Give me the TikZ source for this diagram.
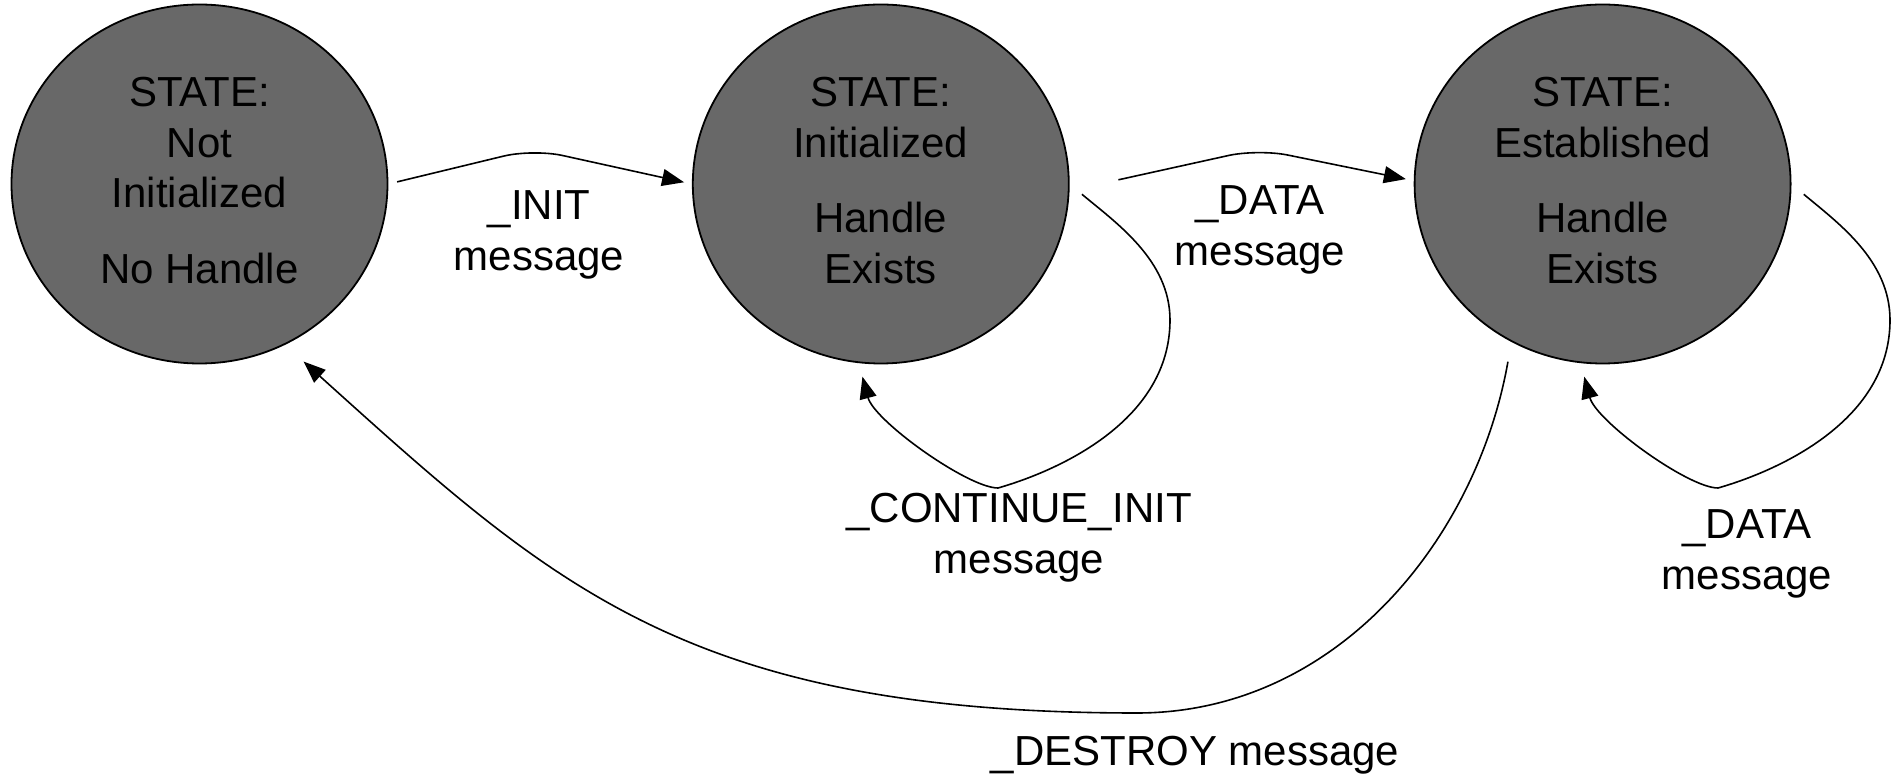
\documentclass[tikz,border=0pt]{standalone}
\usepackage{fontspec}
\setmainfont{Liberation Sans}
\usetikzlibrary{arrows.meta,positioning,shapes.geometric}
\definecolor{stategray}{RGB}{104,104,104}

\begin{document}
\begin{tikzpicture}[x=0.5pt,y=0.5pt,>={Triangle[length=11pt,width=8.5pt]},line width=0.8pt,
    font=\fontsize{21}{25.4}\selectfont]
  \tikzstyle{state}=[ellipse,draw=black,fill=stategray,line width=0.9pt,minimum width=188pt,
    minimum height=179.5pt,inner sep=0pt,text depth=3.6pt,align=center,text=black]
  \tikzstyle{lbl}=[align=center,text=black]
  \tikzstyle{msg}=[->,draw=black]

  \useasboundingbox (0,0) rectangle (1896,-774);

  \node[state] (stA) at (199.5,-184) {STATE:\\Not\\Initialized\\[12.5pt]No Handle};
  \node[state] (stB) [right=151.75pt of stA] {STATE:\\Initialized\\[12.5pt]Handle\\Exists};
  \node[state] (stC) [right=172pt of stB] {STATE:\\Established\\[12.5pt]Handle\\Exists};

  \coordinate (initTop) at (533,-149);
  \coordinate (dataTop) at (1258,-149);
  \coordinate (contRight) at (1170,-320);
  \coordinate (contLow) at (998,-488);
  \coordinate (dataRight) at (1890,-320);
  \coordinate (dataLow) at (1718,-488);
  \coordinate (destroyLow) at (1137,-713);

  \draw[msg,shorten <=4.5pt,shorten >=4pt,rounded corners=15pt] (stA.east) -- (initTop) -- (stB.west);
  \draw[msg,shorten <=25pt,shorten >=4pt,rounded corners=15pt] (stB.-2) -- (dataTop) -- (stC.179);
  % self loops
  \draw[msg,shorten <=8pt,shorten >=7pt] (stB.east) .. controls +(-40:60) and +(90:60) .. (contRight)
    .. controls +(-90:100) and +(16:65) .. (contLow) .. controls +(180:30) and +(-75:60) .. (stB.263);
  \draw[msg,shorten <=8pt,shorten >=7pt] (stC.east) .. controls +(-40:60) and +(90:60) .. (dataRight)
    .. controls +(-90:100) and +(16:65) .. (dataLow) .. controls +(180:30) and +(-75:60) .. (stC.263);
  \draw[msg,shorten <=10pt,shorten >=12.5pt] (stC.240) .. controls +(-100:200) and +(0:200) .. (destroyLow)
    .. controls +(180:450) and +(-42:360) .. (stA.-62);

  \node[lbl] (lInit) at (539,-235) {\_INIT\\message};
  \node[lbl] (lData) at (1260,-230) {\_DATA\\message};
  \node[lbl] (lCont) at (1019,-538) {\_CONTINUE\_INIT\\message};
  \node[lbl] (lDataSelf) at (1747,-554) {\_DATA\\message};
  \node[lbl] (lDestroy) at (1195,-755) {\_DESTROY message};
\end{tikzpicture}
\end{document}
